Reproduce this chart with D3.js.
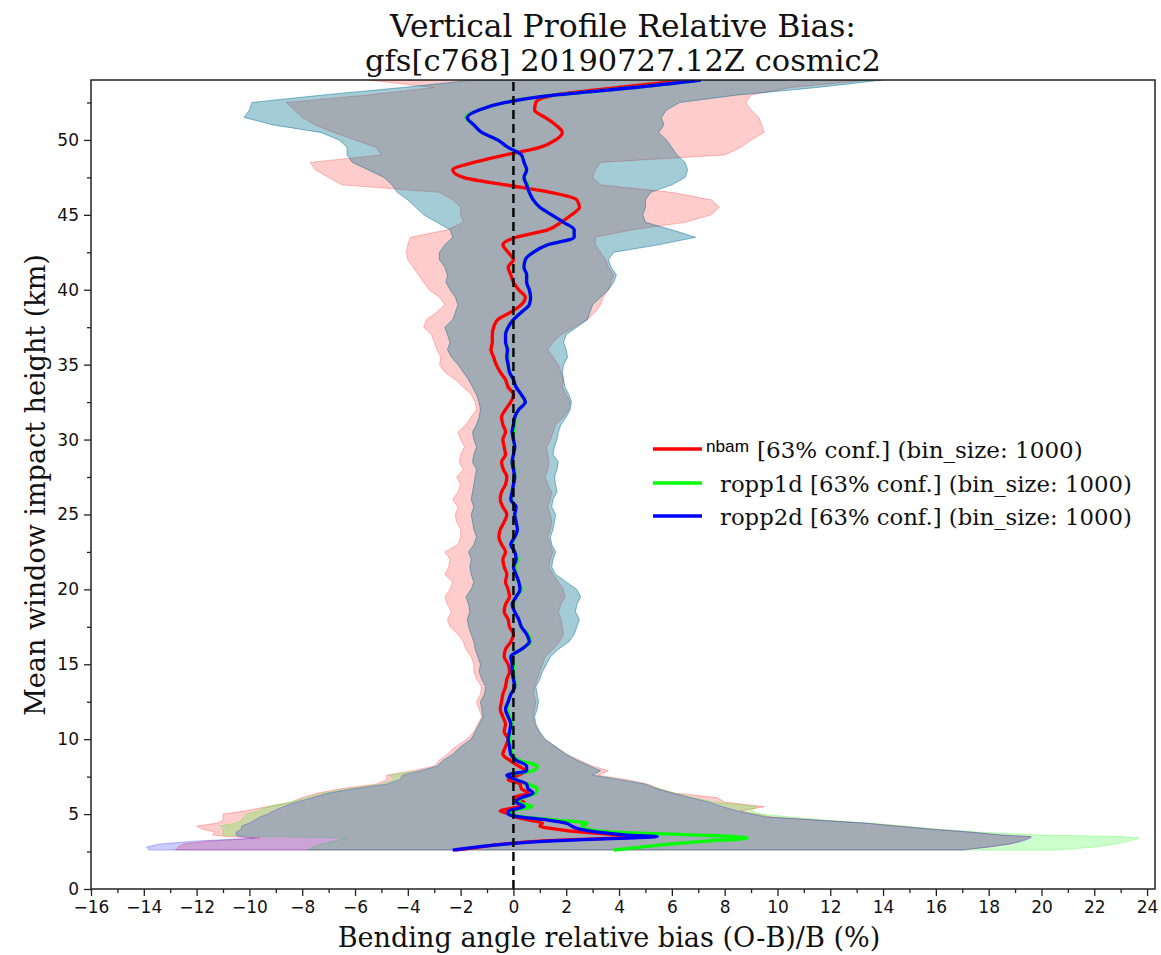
<!DOCTYPE html>
<html><head><meta charset="utf-8">
<script src="https://cdn.jsdelivr.net/npm/d3@7"></script>
<style>body{margin:0;background:#fff}</style>
</head><body>
<svg id="c" width="1161" height="955"></svg>
<script>
// ---------------- data ----------------
const heights = [
  2.6,2.8,3.0,3.2,3.4,3.5,3.6,3.8,4.0,4.2,4.4,4.6,4.8,5.0,5.2,5.5,5.8,6.1,6.4,6.7,7.0,7.3,7.6,7.9,8.2,8.6,9.0,9.5,10,
  10.5,11,11.5,12,12.5,13,13.5,14,
  14.5,15,15.5,16,16.5,17,17.5,18,
  18.5,19,19.5,20,20.5,21,21.5,22,
  22.5,23,23.5,24,24.5,25,25.5,26,
  26.5,27,27.5,28,28.5,29,29.5,30,
  30.5,31,31.5,32,32.5,33,33.5,34,
  34.5,35,35.5,36,36.5,37,37.5,38,
  38.5,39,39.5,40,40.5,41,41.5,42,
  42.5,43,43.5,44,44.5,45,45.5,46,46.5,47,47.5,48,48.5,49,49.5,50,50.5,51,51.5,52,52.5,53,53.5,54];

const nbamMean = [
  -2.2,-1.3,-0.4,1.0,3.8,4.9,4.2,2.6,1.6,1.0,1.1,0.6,0.1,-0.1,-0.5,0.2,0.4,0.0,0.55,0.3,0.25,-0.2,0.2,0.45,0.2,-0.15,-0.4,-0.3,-0.2,
  -0.35,-0.3,-0.4,-0.5,-0.45,-0.4,-0.3,-0.25,
  -0.15,-0.2,-0.35,-0.3,-0.1,0.0,-0.15,-0.2,
  -0.35,-0.3,-0.15,-0.2,-0.3,-0.25,-0.35,-0.4,
  -0.3,-0.45,-0.55,-0.5,-0.35,-0.25,-0.4,-0.5,
  -0.45,-0.3,-0.25,-0.38,-0.45,-0.3,-0.35,-0.4,
  -0.3,-0.4,-0.45,-0.3,-0.1,0.0,-0.2,-0.3,
  -0.5,-0.65,-0.75,-0.85,-0.8,-0.8,-0.75,-0.6,
  -0.1,0.3,0.45,0.2,0.0,-0.1,-0.2,0.0,
  -0.2,-0.4,0.1,1.3,1.8,2.2,2.5,2.4,1.4,-0.3,-1.9,-2.3,-1.5,-0.3,1.0,1.6,1.85,1.6,1.2,0.8,0.85,1.6,4.0,6.6];
const ropp1dMean = [
  3.8,4.8,5.9,7.3,8.85,8.4,7.0,3.8,2.8,2.6,2.8,1.6,0.45,-0.1,-0.15,0.7,0.2,0.35,0.85,0.9,0.55,0.1,-0.2,0.75,0.9,0.2,-0.05,-0.1,-0.15,
  -0.1,-0.05,-0.15,-0.25,-0.2,-0.1,0.05,0.05,
  0.0,0.0,-0.05,0.3,0.65,0.55,0.3,0.2,
  0.05,0.0,0.1,0.3,0.2,0.1,0.05,0.15,
  0.05,-0.05,0.05,0.15,0.1,0.05,0.05,-0.05,
  -0.05,0.0,0.05,0.05,-0.05,0.0,0.05,0.0,
  0.0,0.05,0.05,0.2,0.45,0.3,0.1,0.0,
  -0.15,-0.2,-0.2,-0.2,-0.3,-0.3,-0.2,0.0,
  0.3,0.6,0.65,0.6,0.5,0.5,0.4,0.45,
  0.75,1.3,2.3,2.3,1.9,1.45,1.0,0.75,0.6,0.55,0.4,0.5,0.4,0.3,-0.2,-0.6,-1.2,-1.5,-1.8,-1.3,-0.3,1.6,4.6,7.1];
const ropp2dMean = [
  -2.3,-1.4,-0.3,1.3,4.3,5.45,4.3,3.2,2.5,2.2,2.0,1.3,0.3,-0.2,-0.2,0.4,0.1,0.3,0.75,0.55,0.5,0.1,-0.25,0.5,0.5,0.1,-0.1,-0.15,-0.2,
  -0.15,-0.1,-0.2,-0.3,-0.2,-0.1,0.05,0.0,
  -0.05,-0.05,-0.1,0.3,0.6,0.5,0.3,0.2,
  0.05,-0.05,0.1,0.25,0.2,0.1,0.0,0.1,
  0.05,-0.1,0.05,0.15,0.1,0.05,0.1,-0.1,
  -0.05,0.0,0.05,0.0,-0.05,0.0,0.05,0.0,
  -0.05,0.0,0.05,0.2,0.45,0.3,0.1,0.0,
  -0.15,-0.2,-0.25,-0.23,-0.3,-0.3,-0.2,0.0,
  0.3,0.6,0.65,0.6,0.5,0.5,0.4,0.45,
  0.75,1.3,2.3,2.3,1.9,1.45,1.0,0.75,0.6,0.5,0.4,0.5,0.4,0.3,-0.2,-0.6,-1.2,-1.5,-1.75,-1.3,-0.3,1.6,4.6,7.1];

const nbamLow = [
  -12.8,-12.7,-12.5,-11.5,-9.6,-10.8,-11.4,-11.3,-11.8,-12.0,-11.2,-11.0,-11.0,-11.0,-10.2,-9.3,-8.4,-8.0,-7.4,-6.5,-5.2,-4.8,-4.8,-3.8,-3.0,-2.8,-2.5,-2.2,-1.75,
  -1.5,-1.35,-1.2,-1.3,-1.4,-1.25,-1.2,-1.4,
  -1.5,-1.5,-1.6,-1.8,-1.9,-2.1,-2.4,-2.5,
  -2.35,-2.5,-2.6,-2.4,-2.3,-2.6,-2.45,-2.4,
  -2.6,-2.1,-2.0,-2.0,-2.15,-2.2,-2.1,-2.3,
  -2.1,-2.0,-2.15,-1.9,-2.05,-2.0,-1.85,-2.0,
  -2.1,-1.8,-1.6,-1.4,-1.45,-1.6,-1.9,-2.2,
  -2.6,-2.8,-2.75,-2.9,-3.0,-3.1,-3.4,-3.3,
  -2.9,-2.6,-2.8,-3.2,-3.4,-3.6,-3.8,-4.0,
  -4.05,-4.0,-3.9,-2.5,-1.9,-2.0,-2.0,-2.3,-2.8,-6.5,-7.0,-7.5,-7.7,-5.0,-5.2,-6.0,-6.8,-7.5,-8.0,-8.3,-8.6,-5.5,-3.0,-5.5];
const nbamHigh = [
  17.0,18.0,18.8,19.2,19.5,19.6,18.5,17.3,15.8,14.6,13.3,11.5,9.8,9.2,8.6,9.5,8.0,7.7,6.1,5.5,5.1,4.3,3.2,3.6,3.0,2.5,2.0,1.6,1.15,
  0.95,0.8,0.75,0.8,0.85,0.77,0.8,0.9,
  1.0,1.1,1.2,1.5,1.75,1.9,1.85,1.8,
  1.7,1.8,1.95,1.9,1.7,1.5,1.35,1.4,
  1.5,1.4,1.3,1.4,1.45,1.4,1.3,1.4,
  1.45,1.3,1.2,1.3,1.35,1.3,1.25,1.4,
  1.5,1.6,1.9,2.1,2.15,2.0,1.85,1.9,
  1.8,1.7,1.5,1.3,1.5,1.8,2.3,2.8,
  3.1,3.3,3.4,3.6,3.7,3.8,3.6,3.5,
  3.3,3.1,3.1,4.5,6.5,7.5,7.8,7.5,6.0,3.3,3.0,3.1,3.3,8.0,8.6,9.0,9.5,9.4,9.3,9.0,8.8,9.0,10.5,13.5];
const ropp1dLow = [
  -7.8,-7.6,-7.3,-6.8,-6.3,-9.5,-11.0,-11.0,-11.0,-11.1,-10.5,-10.3,-10.2,-10.1,-9.7,-9.3,-8.4,-7.8,-7.2,-6.2,-5.0,-4.5,-4.7,-3.5,-2.9,-2.65,-2.3,-2.0,-1.6,
  -1.45,-1.3,-1.15,-1.2,-1.25,-1.1,-1.05,-1.2,
  -1.3,-1.25,-1.35,-1.45,-1.5,-1.6,-1.7,-1.75,
  -1.65,-1.7,-1.8,-1.6,-1.5,-1.6,-1.65,-1.6,
  -1.7,-1.5,-1.4,-1.5,-1.55,-1.6,-1.5,-1.6,
  -1.55,-1.5,-1.45,-1.4,-1.55,-1.5,-1.4,-1.5,
  -1.55,-1.4,-1.3,-1.25,-1.3,-1.4,-1.55,-1.7,
  -1.9,-2.1,-2.35,-2.5,-2.4,-2.5,-2.6,-2.3,
  -2.2,-2.1,-2.2,-2.4,-2.55,-2.5,-2.6,-2.8,
  -2.8,-2.6,-2.3,-2.4,-2.9,-3.4,-3.7,-4.0,-4.4,-4.6,-4.9,-5.5,-6.1,-6.3,-6.3,-6.6,-7.3,-9.1,-10.2,-10.0,-9.9,-7.2,-4.2,-1.5];
const ropp1dHigh = [
  20.5,22.0,22.8,23.3,23.7,23.0,20.0,17.6,16.0,14.8,13.5,11.8,10.5,9.4,9.0,9.2,7.6,6.8,6.1,5.5,5.0,4.1,3.0,3.3,2.9,2.4,2.0,1.6,1.2,
  1.0,0.85,0.8,0.9,0.95,0.9,0.85,1.0,
  1.1,1.25,1.4,1.7,2.1,2.3,2.4,2.5,
  2.35,2.4,2.55,2.4,2.0,1.6,1.45,1.5,
  1.6,1.45,1.4,1.5,1.55,1.6,1.45,1.5,
  1.65,1.6,1.55,1.65,1.7,1.5,1.55,1.65,
  1.7,1.8,2.0,2.15,2.2,2.1,1.95,1.9,
  1.85,1.9,2.05,2.0,1.9,2.0,2.4,2.8,
  2.9,3.0,3.3,3.6,3.8,3.9,3.7,3.6,
  3.8,5.5,6.9,6.0,5.0,4.9,5.0,5.0,5.2,6.0,6.5,6.6,6.5,6.2,6.0,5.8,5.5,5.7,5.6,5.8,6.3,8.5,11.5,14.0];
const ropp2dLow = [
  -13.8,-13.9,-13.4,-12.0,-9.8,-10.4,-10.5,-10.5,-10.3,-10.3,-10.0,-9.8,-9.6,-9.3,-9.1,-8.7,-8.2,-7.6,-7.0,-6.0,-4.8,-4.3,-4.2,-3.5,-2.9,-2.65,-2.3,-2.0,-1.6,
  -1.45,-1.3,-1.15,-1.2,-1.25,-1.1,-1.05,-1.2,
  -1.3,-1.25,-1.35,-1.45,-1.5,-1.6,-1.7,-1.75,
  -1.65,-1.7,-1.8,-1.6,-1.5,-1.6,-1.65,-1.6,
  -1.7,-1.5,-1.4,-1.5,-1.55,-1.6,-1.5,-1.6,
  -1.55,-1.5,-1.45,-1.4,-1.55,-1.5,-1.4,-1.5,
  -1.55,-1.4,-1.3,-1.25,-1.3,-1.4,-1.55,-1.7,
  -1.9,-2.1,-2.35,-2.5,-2.4,-2.5,-2.6,-2.3,
  -2.2,-2.1,-2.2,-2.4,-2.55,-2.5,-2.6,-2.8,
  -2.8,-2.6,-2.3,-2.4,-2.9,-3.4,-3.7,-4.0,-4.4,-4.6,-4.9,-5.5,-6.1,-6.3,-6.3,-6.6,-7.3,-9.1,-10.2,-10.0,-9.9,-7.2,-4.2,-1.5];
const ropp2dHigh = [
  17.0,18.0,18.8,19.3,19.6,19.6,18.5,17.3,15.8,14.5,13.3,11.5,9.6,9.0,8.5,7.9,7.4,6.7,6.0,5.4,5.0,4.0,3.0,3.3,2.9,2.4,2.0,1.6,1.2,
  1.0,0.85,0.8,0.9,0.95,0.9,0.85,1.0,
  1.1,1.25,1.4,1.7,2.1,2.3,2.4,2.5,
  2.35,2.4,2.55,2.4,2.0,1.6,1.45,1.5,
  1.6,1.45,1.4,1.5,1.55,1.6,1.45,1.5,
  1.65,1.6,1.55,1.65,1.7,1.5,1.55,1.65,
  1.7,1.8,2.0,2.15,2.2,2.1,1.95,1.9,
  1.85,1.9,2.05,2.0,1.9,2.0,2.4,2.8,
  2.9,3.0,3.3,3.6,3.8,3.9,3.7,3.6,
  3.8,5.5,6.9,6.0,5.0,4.9,5.0,5.0,5.2,6.0,6.5,6.6,6.5,6.2,6.0,5.8,5.5,5.7,5.6,5.8,6.3,8.5,11.5,14.0];

const seriesNames = ["nbam", "ropp1d", "ropp2d"];
const seriesColors = ["#ff0000", "#00ff00", "#0000ff"];
const legendSuffix = "[63% conf.] (bin_size: 1000)";
const xTicks = [-16,-14,-12,-10,-8,-6,-4,-2,0,2,4,6,8,10,12,14,16,18,20,22,24];
const xMinorTicks = [-15,-13,-11,-9,-7,-5,-3,-1,1,3,5,7,9,11,13,15,17,19,21,23];
const yTicks = [0,5,10,15,20,25,30,35,40,45,50];
const yMinorTicks = [2.5,7.5,12.5,17.5,22.5,27.5,32.5,37.5,42.5,47.5,52.5];
const titleLines = ["Vertical Profile Relative Bias:", "gfs[c768] 20190727.12Z cosmic2"];
const xLabel = "Bending angle relative bias (O-B)/B (%)";
const yLabel = "Mean window impact height (km)";

// ---------------- chart ----------------
const L = 91, R = 1155, T = 80, B = 889;
const svg = d3.select("#c");
const x = d3.scaleLinear().domain([-16, 24.3]).range([L, R]);
const y = d3.scaleLinear().domain([0, 54]).range([B, T]);

svg.append("clipPath").attr("id","clip").append("rect")
  .attr("x", L).attr("y", T).attr("width", R-L).attr("height", B-T);
const plot = svg.append("g").attr("clip-path","url(#clip)");

const means = [nbamMean, ropp1dMean, ropp2dMean];
const lows = [nbamLow, ropp1dLow, ropp2dLow];
const highs = [nbamHigh, ropp1dHigh, ropp2dHigh];

seriesNames.forEach((n, k) => {
  const area = d3.area()
    .y((d,i) => y(heights[i]))
    .x0((d,i) => x(lows[k][i]))
    .x1((d,i) => x(highs[k][i]));
  plot.append("path").datum(heights)
    .attr("d", area)
    .attr("fill", seriesColors[k]).attr("fill-opacity", 0.2)
    .attr("stroke", seriesColors[k]).attr("stroke-opacity", 0.25).attr("stroke-width", 1);
});

seriesNames.forEach((n, k) => {
  const line = d3.line()
    .x((d,i) => x(means[k][i]))
    .y((d,i) => y(heights[i]))
    .curve(d3.curveMonotoneY);
  plot.append("path").datum(heights)
    .attr("d", line).attr("fill","none")
    .attr("stroke", seriesColors[k]).attr("stroke-width", 3.3)
    .attr("stroke-linejoin","round");
});

// zero line
plot.append("line")
  .attr("x1", x(0)).attr("x2", x(0)).attr("y1", y(0)).attr("y2", y(54))
  .attr("stroke","#000").attr("stroke-width", 2.4).attr("stroke-dasharray","9,5");

// axes
const fmt = d => d < 0 ? "\u2212" + Math.abs(d) : String(d);
const gx = svg.append("g").attr("transform", `translate(0,${B})`)
  .call(d3.axisBottom(x).tickValues(xTicks).tickFormat(fmt).tickSize(7).tickPadding(5));
const gxm = svg.append("g").attr("transform", `translate(0,${B})`)
  .call(d3.axisBottom(x).tickValues(xMinorTicks).tickFormat("").tickSize(4));
const gy = svg.append("g").attr("transform", `translate(${L},0)`)
  .call(d3.axisLeft(y).tickValues(yTicks).tickFormat(fmt).tickSize(7).tickPadding(5));
const gym = svg.append("g").attr("transform", `translate(${L},0)`)
  .call(d3.axisLeft(y).tickValues(yMinorTicks).tickFormat("").tickSize(4));
[gx,gxm,gy,gym].forEach(g => {
  g.select(".domain").remove();
  g.selectAll(".tick line").attr("stroke","#222").attr("stroke-width",1.3);
  g.selectAll("text").attr("font-family","DejaVu Sans").attr("font-size",17).attr("fill","#111");
});

svg.append("rect").attr("x",L).attr("y",T).attr("width",R-L).attr("height",B-T)
  .attr("fill","none").attr("stroke","#222").attr("stroke-width",1.5);

// fit helper
function fit(t, w) {
  const cur = t.node().getComputedTextLength();
  const fs = parseFloat(t.attr("font-size"));
  t.attr("font-size", fs * w / cur);
}

const serif = "DejaVu Serif";
const t1 = svg.append("text").attr("x", 623).attr("y", 37).attr("text-anchor","middle")
  .attr("font-family", serif).attr("font-size", 28).attr("fill","#111").text(titleLines[0]);
fit(t1, 466);
const t2 = svg.append("text").attr("x", 623).attr("y", 71).attr("text-anchor","middle")
  .attr("font-family", serif).attr("font-size", 28).attr("fill","#111").text(titleLines[1]);
fit(t2, 516);
const xl = svg.append("text").attr("x", 609).attr("y", 947).attr("text-anchor","middle")
  .attr("font-family", serif).attr("font-size", 26).attr("fill","#111").text(xLabel);
fit(xl, 543);
const yl = svg.append("text").attr("transform","translate(45,485) rotate(-90)").attr("text-anchor","middle")
  .attr("font-family", serif).attr("font-size", 26).attr("fill","#111").text(yLabel);
fit(yl, 462);

// legend
const legY = [449, 483, 516];
seriesNames.forEach((n, k) => {
  svg.append("line").attr("x1", 653).attr("x2", 702).attr("y1", legY[k]).attr("y2", legY[k])
    .attr("stroke", seriesColors[k]).attr("stroke-width", 3.3);
});
const ln = svg.append("text").attr("x", 706).attr("y", 452)
  .attr("font-family","Liberation Sans").attr("font-size", 15).attr("fill","#000").text(seriesNames[0]);
fit(ln, 43);
const l1 = svg.append("text").attr("x", 757).attr("y", 458)
  .attr("font-family", serif).attr("font-size", 20).attr("fill","#111").text(legendSuffix);
fit(l1, 326);
[1,2].forEach(k => {
  const t = svg.append("text").attr("x", 720).attr("y", legY[k] + 9)
    .attr("font-family", serif).attr("font-size", 20).attr("fill","#111").text(seriesNames[k] + " " + legendSuffix);
  fit(t, 412);
});
</script>
</body></html>
